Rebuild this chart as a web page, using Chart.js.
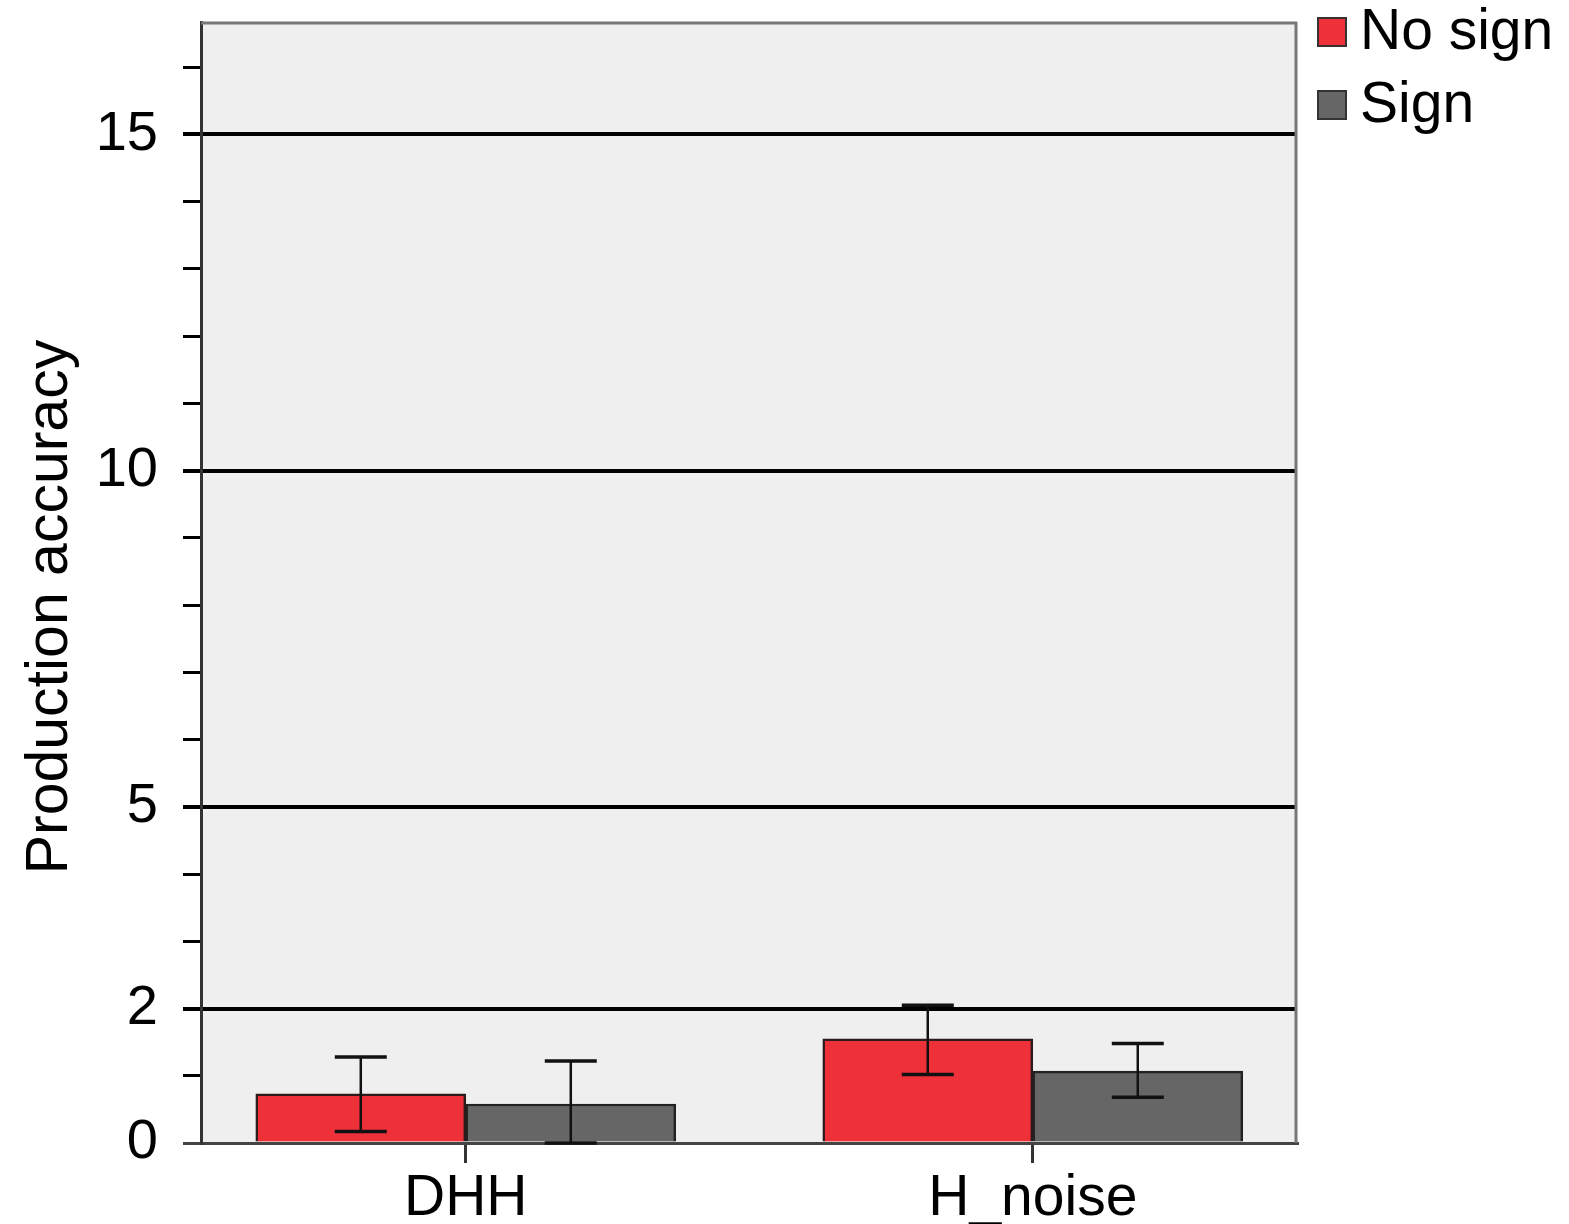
<!DOCTYPE html>
<html>
<head>
<meta charset="utf-8">
<script src="https://cdn.jsdelivr.net/npm/chart.js@4.4.1/dist/chart.umd.min.js"></script>
<style>
  html, body { margin: 0; padding: 0; background: #fff; }
  #wrap { width: 1569px; height: 1224px; position: relative; }
</style>
</head>
<body>
<div id="wrap"><canvas id="chart"></canvas></div>
<script>
const categories = ['DHH', 'H_noise'];
const seriesLabels = ['No sign', 'Sign'];

// bar heights (means) and error bar ends
const noSign = [0.73, 1.55];
const noSignLow = [0.17, 1.02];
const noSignHigh = [1.28, 2.05];
const sign = [0.58, 1.07];
const signLow = [0.0, 0.68];
const signHigh = [1.22, 1.48];

const yTickValues = [0, 1, 2, 3, 4, 5, 6, 7, 8, 9, 10, 11, 12, 13, 14, 15, 16];
const yLabelled = [0, 2, 5, 10, 15];
const yGridValues = [2, 5, 10, 15];
const Y_MAX = 16.67;
// groups are not evenly spread across the frame, so x is a linear axis
const X_MIN = -0.467;
const X_MAX = 1.466;

Chart.defaults.font.family = '"Liberation Sans", Arial, Helvetica, sans-serif';

const plotFrame = {
  id: 'plotFrame',
  beforeDraw(chart) {
    const { ctx, chartArea: a } = chart;
    ctx.save();
    ctx.fillStyle = '#efefef';
    ctx.fillRect(a.left, a.top, a.right - a.left, a.bottom - a.top);
    ctx.restore();
  },
  beforeDatasetsDraw(chart) {
    const { ctx, chartArea: a } = chart;
    ctx.save();
    ctx.strokeStyle = '#777';
    ctx.lineWidth = 3;
    ctx.beginPath();
    ctx.moveTo(a.left, a.top + 1);
    ctx.lineTo(a.right, a.top + 1);
    ctx.moveTo(a.right - 1, a.top);
    ctx.lineTo(a.right - 1, a.bottom);
    ctx.stroke();
    ctx.restore();
  }
};

const errorBars = {
  id: 'errorBars',
  afterDatasetsDraw(chart) {
    const { ctx, scales: { y } } = chart;
    ctx.save();
    ctx.strokeStyle = '#111';
    chart.data.datasets.forEach((ds, di) => {
      chart.getDatasetMeta(di).data.forEach((bar, i) => {
        const hi = y.getPixelForValue(ds.errHigh[i]);
        const lo = y.getPixelForValue(ds.errLow[i]);
        ctx.lineWidth = 2.5;
        ctx.beginPath();
        ctx.moveTo(bar.x, hi);
        ctx.lineTo(bar.x, lo);
        ctx.stroke();
        ctx.lineWidth = 3.5;
        ctx.beginPath();
        ctx.moveTo(bar.x - 26, hi);
        ctx.lineTo(bar.x + 26, hi);
        ctx.moveTo(bar.x - 26, lo);
        ctx.lineTo(bar.x + 26, lo);
        ctx.stroke();
      });
    });
    ctx.restore();
  }
};

const sideLegend = {
  id: 'sideLegend',
  afterDraw(chart) {
    const { ctx, chartArea: a } = chart;
    ctx.save();
    ctx.font = '57px "Liberation Sans", Arial, sans-serif';
    ctx.textBaseline = 'middle';
    chart.data.datasets.forEach((ds, i) => {
      const cy = 32 + i * 73;
      const x = a.right + 21;
      ctx.fillStyle = ds.backgroundColor;
      ctx.fillRect(x, cy - 14, 28, 28);
      ctx.strokeStyle = '#333';
      ctx.lineWidth = 2;
      ctx.strokeRect(x, cy - 14, 28, 28);
      ctx.fillStyle = '#000';
      ctx.fillText(ds.label, x + 42, cy + 1);
    });
    ctx.restore();
  }
};

new Chart(document.getElementById('chart'), {
  type: 'bar',
  data: {
    datasets: [
      {
        label: seriesLabels[0],
        data: categories.map((c, i) => ({ x: i, y: noSign[i] })),
        errLow: noSignLow,
        errHigh: noSignHigh,
        backgroundColor: '#ee3039',
        borderColor: '#2b1b1b',
        borderWidth: 2.5,
        barThickness: 210
      },
      {
        label: seriesLabels[1],
        data: categories.map((c, i) => ({ x: i, y: sign[i] })),
        errLow: signLow,
        errHigh: signHigh,
        backgroundColor: '#666666',
        borderColor: '#222',
        borderWidth: 2.5,
        barThickness: 210
      }
    ]
  },
  options: {
    responsive: true,
    maintainAspectRatio: false,
    animation: false,
    layout: { padding: { left: 0, top: 22, right: 272, bottom: 0 } },
    plugins: { legend: { display: false }, tooltip: { enabled: false } },
    scales: {
      x: {
        type: 'linear',
        min: X_MIN,
        max: X_MAX,
        offset: false,
        afterBuildTicks: (s) => { s.ticks = categories.map((_, i) => ({ value: i })); },
        afterFit: (s) => { s.height = 81; s.paddingLeft = 0; s.paddingRight = 0; },
        ticks: { autoSkip: false, padding: 2, color: '#000', font: { size: 57 }, callback: (v) => categories[v] ?? '' },
        grid: { offset: false, color: 'rgba(0,0,0,0)', tickColor: '#333', tickLength: 20, lineWidth: 3 },
        border: { color: '#444', width: 3 }
      },
      y: {
        min: 0,
        max: Y_MAX,
        afterBuildTicks: (s) => { s.ticks = yTickValues.map((v) => ({ value: v })); },
        afterFit: (s) => { s.width = 201; s.paddingTop = 0; s.paddingBottom = 0; },
        ticks: { autoSkip: false, padding: 25, color: '#000', font: { size: 56 }, callback: (v) => (yLabelled.includes(v) ? String(v) : '') },
        grid: {
          color: (c) => (yGridValues.includes(c.tick.value) ? '#000' : 'rgba(0,0,0,0)'),
          lineWidth: (c) => (yGridValues.includes(c.tick.value) ? 4 : 3),
          tickColor: (c) => (c.tick.value === 0 ? '#444' : '#000'),
          tickLength: 18
        },
        border: { color: '#333', width: 3 },
        // trailing spaces push the rotated title down a little, as in the original
        title: { display: true, text: 'Production accuracy   ', color: '#000', font: { size: 59 }, padding: { top: 15, bottom: 0 } }
      }
    }
  },
  plugins: [plotFrame, errorBars, sideLegend]
});
</script>
</body>
</html>
